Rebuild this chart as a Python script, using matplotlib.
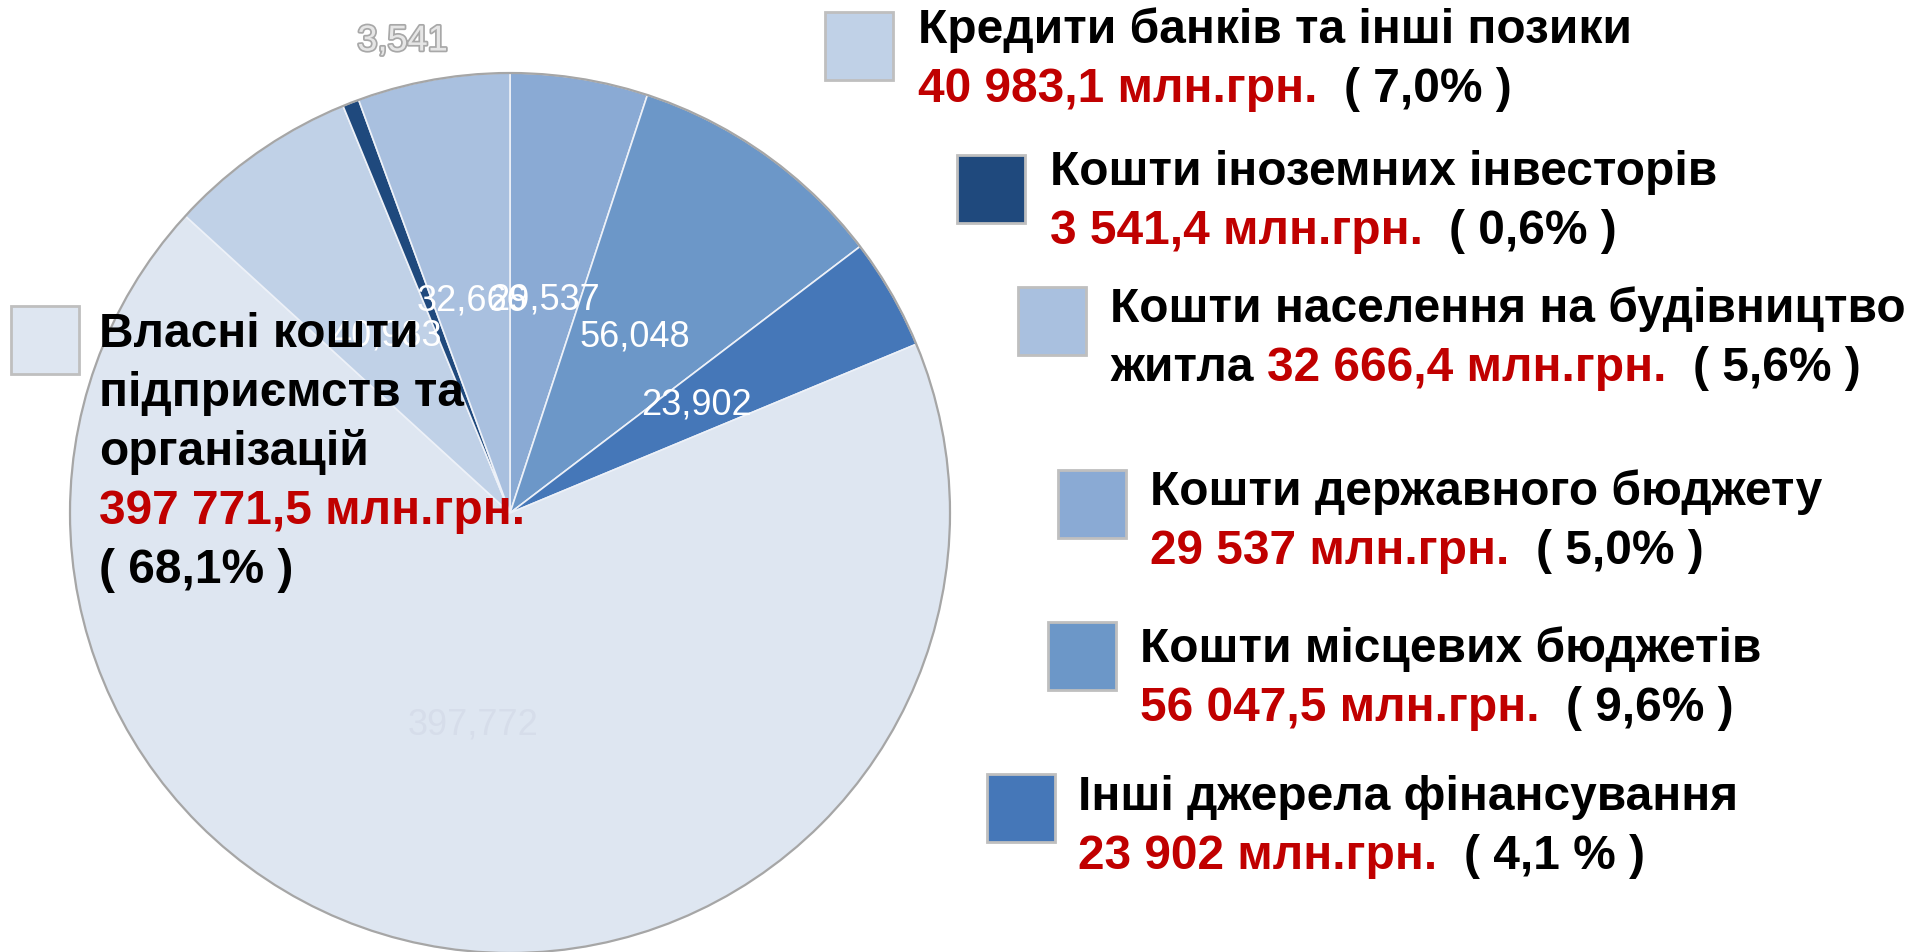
import matplotlib
matplotlib.use('Agg')
import matplotlib.pyplot as plt
from matplotlib.patches import Rectangle, Circle
import matplotlib.patheffects as pe
import numpy as np

# ---------------- data (clockwise from 12 o'clock) ----------------
categories = ['Кошти державного бюджету', 'Кошти місцевих бюджетів',
              'Інші джерела фінансування', 'Власні кошти підприємств та організацій',
              'Кредити банків та інші позики', 'Кошти іноземних інвесторів',
              'Кошти населення на будівництво житла']
values = [29537.0, 56047.5, 23902.0, 397771.5, 40983.1, 3541.4, 32666.4]
value_text = ['29 537', '56 047,5', '23 902', '397 771,5', '40 983,1', '3 541,4', '32 666,4']
share_text = ['5,0%', '9,6%', '4,1 %', '68,1%', '7,0%', '0,6%', '5,6%']
unit = 'млн.грн.'
colors = ['#8AAAD4', '#6C97C8', '#4577B8', '#DEE6F1', '#C0D1E7', '#1F497D', '#A9C0DF']

# legend text wrapping
name_lines = [['Кошти державного бюджету'], ['Кошти місцевих бюджетів'],
              ['Інші джерела фінансування'], ['Власні кошти', 'підприємств та', 'організацій'],
              ['Кредити банків та інші позики'], ['Кошти іноземних інвесторів'],
              ['Кошти населення на будівництво', 'житла']]
tail_joins = [False, False, False, False, False, False, True]
share_newline = [False, False, False, True, False, False, False]

# legend layout (pixels, top-left origin)
box_xy = [(1058, 470), (1048, 622), (987, 774), (11, 306), (825, 12), (957, 155), (1018, 287)]
text_x = [1150, 1140, 1078, 99, 918, 1050, 1110]
base_y = [505, 662, 810, 347, 43, 185, 322]
LINE = 59
BOX = 68

W, H = 1924, 952
RED = '#C00000'
FONT = ['Liberation Sans', 'DejaVu Sans']
FS = 34.5

fig = plt.figure(figsize=(W / 100, H / 100), dpi=100)
ax = fig.add_axes([0, 0, 1, 1])

cx, cy, R = 510, H - 513, 440
vals_iter = iter(values)
wedges, texts, autotexts = ax.pie(
    values, colors=colors, startangle=90, counterclock=False,
    center=(cx, cy), radius=R, pctdistance=0.49,
    autopct=lambda p: f"{next(vals_iter):,.0f}",
    wedgeprops=dict(edgecolor='#EDF1F8', linewidth=1.2),
    textprops=dict(color='white', fontsize=26, family=FONT))
ax.add_patch(Circle((cx, cy), R, fill=False, edgecolor='#A6A6A6', linewidth=1.6, zorder=3))

for t in autotexts:
    t.set_zorder(4)
# faint label on the large slice
autotexts[3].set_color('#D6DDEA')
# small slice label placed outside
w = wedges[5]
mid = np.deg2rad((w.theta1 + w.theta2) / 2 - 8.4)
autotexts[5].set_position((cx + 1.10 * R * np.cos(mid), cy + 1.10 * R * np.sin(mid)))
autotexts[5].set_color('#E6E6E6')
autotexts[5].set_path_effects([pe.withStroke(linewidth=2.5, foreground='#A8A8A8')])

ax.set_xlim(0, W)
ax.set_ylim(0, H)
ax.set_aspect('auto')
ax.axis('off')

renderer = fig.canvas.get_renderer()


def width(s):
    t = ax.text(0, 0, s, fontsize=FS, family=FONT, fontweight='bold')
    bb = t.get_window_extent(renderer=renderer)
    t.remove()
    return bb.width


def draw_line(x0, ybase, segs):
    prefix = ''
    wx = width('X')
    for s, c in segs:
        lead = s[:len(s) - len(s.lstrip(' '))]
        off = width(prefix + lead + 'X') - wx if (prefix + lead) else 0
        ax.text(x0 + off, H - ybase, s.lstrip(' '), fontsize=FS, family=FONT,
                fontweight='bold', color=c, va='baseline', ha='left', zorder=6)
        prefix += s


for i in range(len(categories)):
    bx, by = box_xy[i]
    ax.add_patch(Rectangle((bx, H - by - BOX), BOX, BOX, facecolor=colors[i],
                           edgecolor='#BFBFBF', linewidth=2, zorder=6))
    lines = []
    names = name_lines[i]
    if tail_joins[i]:
        for n in names[:-1]:
            lines.append([(n, 'black')])
        val_line = [(names[-1] + ' ', 'black'), (value_text[i] + ' ' + unit, RED)]
    else:
        for n in names:
            lines.append([(n, 'black')])
        val_line = [(value_text[i] + ' ' + unit, RED)]
    share = '( ' + share_text[i] + ' )'
    if share_newline[i]:
        lines.append(val_line)
        lines.append([(share, 'black')])
    else:
        val_line.append(('  ' + share, 'black'))
        lines.append(val_line)
    for k, segs in enumerate(lines):
        draw_line(text_x[i], base_y[i] + k * LINE, segs)

fig.savefig('out.png', dpi=100, facecolor='white')
